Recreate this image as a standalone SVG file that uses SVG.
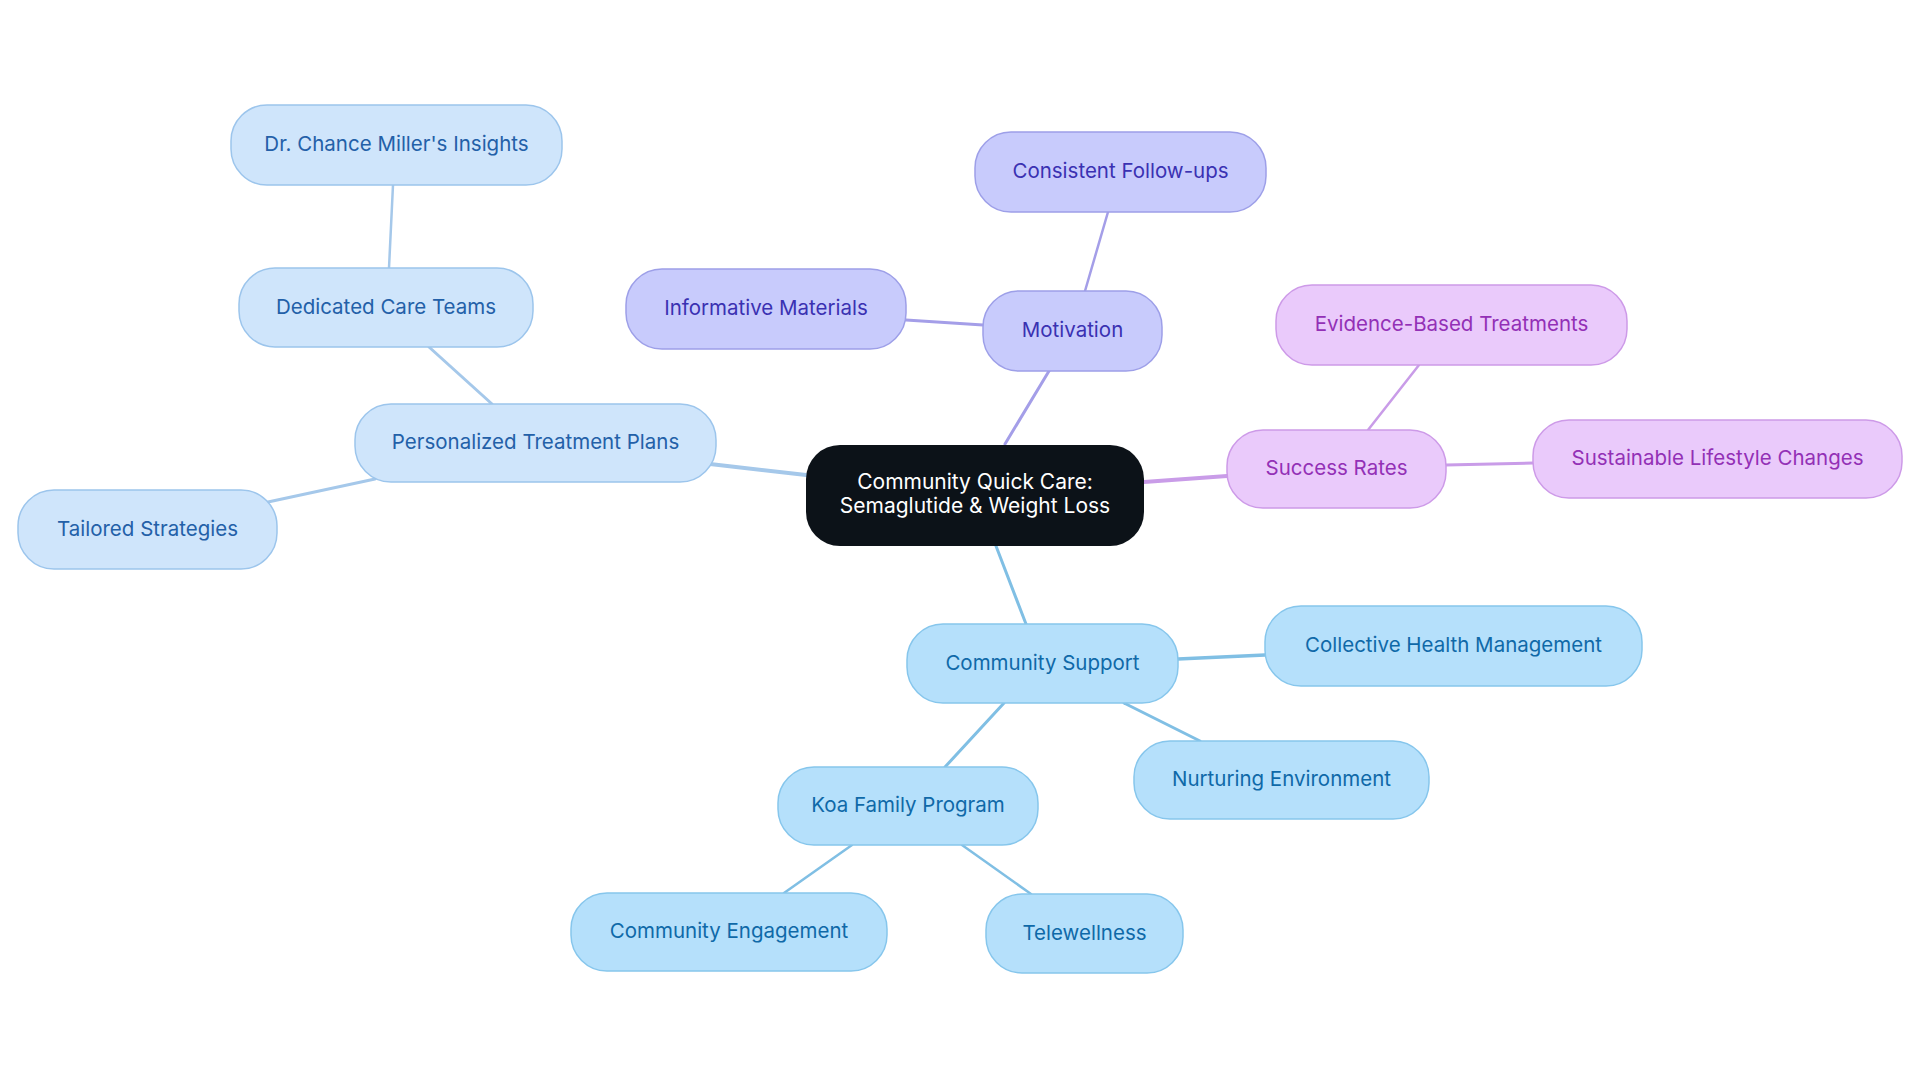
<svg xmlns="http://www.w3.org/2000/svg" width="1920" height="1083" viewBox="0 0 1920 1083">
<style>
text{font-family:Inter,"Noto Sans","Liberation Sans",sans-serif;font-size:20.5px;text-anchor:middle;dominant-baseline:central}
.b rect{fill:#cfe5fb;stroke:#9cc5ec;stroke-width:1.5}
.b text{fill:#2360a8}
.c rect{fill:#b5e0fb;stroke:#86c6ec;stroke-width:1.5}
.c text{fill:#0f69a8}
.m rect{fill:#c8cbfc;stroke:#9d9fe8;stroke-width:1.5}
.m text{fill:#3a31b2}
.s rect{fill:#eacafb;stroke:#cd9ae8;stroke-width:1.5}
.s text{fill:#9330b6}
.root rect{fill:#0c1218}
.root text{fill:#ffffff;font-size:21px}
#connectors line{fill:none;stroke-linecap:round}
.lb{stroke:#a5c8ea}
.lc{stroke:#80bfe4}
.lm{stroke:#a49ee8}
.ls{stroke:#c99ce8}
</style>
<rect width="1920" height="1083" fill="#ffffff"/>
<g id="connectors">
<line class="lb" x1="806" y1="475" x2="710" y2="464" stroke-width="4"/>
<line class="lb" x1="492" y1="404" x2="429" y2="347" stroke-width="3"/>
<line class="lb" x1="389" y1="268" x2="393" y2="185" stroke-width="2.5"/>
<line class="lb" x1="375" y1="479" x2="268" y2="502" stroke-width="3"/>
<line class="lm" x1="1005" y1="444" x2="1049" y2="371" stroke-width="3"/>
<line class="lm" x1="983" y1="325" x2="906" y2="320" stroke-width="3"/>
<line class="lm" x1="1085" y1="291" x2="1108" y2="212" stroke-width="2.5"/>
<line class="ls" x1="1144" y1="482" x2="1227" y2="476" stroke-width="4"/>
<line class="ls" x1="1368" y1="430" x2="1419" y2="365" stroke-width="2.5"/>
<line class="ls" x1="1446" y1="465" x2="1533" y2="463" stroke-width="3"/>
<line class="lc" x1="996" y1="546" x2="1026" y2="624" stroke-width="3"/>
<line class="lc" x1="1178" y1="659" x2="1265" y2="655" stroke-width="3.5"/>
<line class="lc" x1="1124" y1="703" x2="1200" y2="741" stroke-width="3"/>
<line class="lc" x1="1004" y1="703" x2="945" y2="767" stroke-width="3"/>
<line class="lc" x1="852" y1="845" x2="784" y2="893" stroke-width="2.5"/>
<line class="lc" x1="962" y1="845" x2="1031" y2="894" stroke-width="2.5"/>
</g>
<g id="root" class="root"><rect x="806" y="445" width="338" height="101" rx="34"/><text x="975" y="481.5">Community Quick Care:</text><text x="975" y="505.5">Semaglutide &amp; Weight Loss</text></g>
<g id="personalized" class="b"><rect x="355" y="404" width="361" height="78" rx="36"/><text x="535.5" y="441.5">Personalized Treatment Plans</text></g>
<g id="dedicated" class="b"><rect x="239" y="268" width="294" height="79" rx="36"/><text x="386" y="306">Dedicated Care Teams</text></g>
<g id="drmiller" class="b"><rect x="231" y="105" width="331" height="80" rx="36"/><text x="396.5" y="143.5">Dr. Chance Miller's Insights</text></g>
<g id="tailored" class="b"><rect x="18" y="490" width="259" height="79" rx="36"/><text x="147.5" y="528">Tailored Strategies</text></g>
<g id="informative" class="m"><rect x="626" y="269" width="280" height="80" rx="36"/><text x="766" y="307.5">Informative Materials</text></g>
<g id="motivation" class="m"><rect x="983" y="291" width="179" height="80" rx="36"/><text x="1072.5" y="329.5">Motivation</text></g>
<g id="followups" class="m"><rect x="975" y="132" width="291" height="80" rx="36"/><text x="1120.5" y="170.5">Consistent Follow-ups</text></g>
<g id="evidence" class="s"><rect x="1276" y="285" width="351" height="80" rx="36"/><text x="1451.5" y="323.5">Evidence-Based Treatments</text></g>
<g id="success" class="s"><rect x="1227" y="430" width="219" height="78" rx="36"/><text x="1336.5" y="467.5">Success Rates</text></g>
<g id="sustainable" class="s"><rect x="1533" y="420" width="369" height="78" rx="36"/><text x="1717.5" y="457.5">Sustainable Lifestyle Changes</text></g>
<g id="community" class="c"><rect x="907" y="624" width="271" height="79" rx="36"/><text x="1042.5" y="662">Community Support</text></g>
<g id="collective" class="c"><rect x="1265" y="606" width="377" height="80" rx="36"/><text x="1453.5" y="644.5">Collective Health Management</text></g>
<g id="nurturing" class="c"><rect x="1134" y="741" width="295" height="78" rx="36"/><text x="1281.5" y="778.5">Nurturing Environment</text></g>
<g id="koa" class="c"><rect x="778" y="767" width="260" height="78" rx="36"/><text x="908" y="804.5">Koa Family Program</text></g>
<g id="engagement" class="c"><rect x="571" y="893" width="316" height="78" rx="36"/><text x="729" y="930.5">Community Engagement</text></g>
<g id="telewellness" class="c"><rect x="986" y="894" width="197" height="79" rx="36"/><text x="1084.5" y="932">Telewellness</text></g>
</svg>
